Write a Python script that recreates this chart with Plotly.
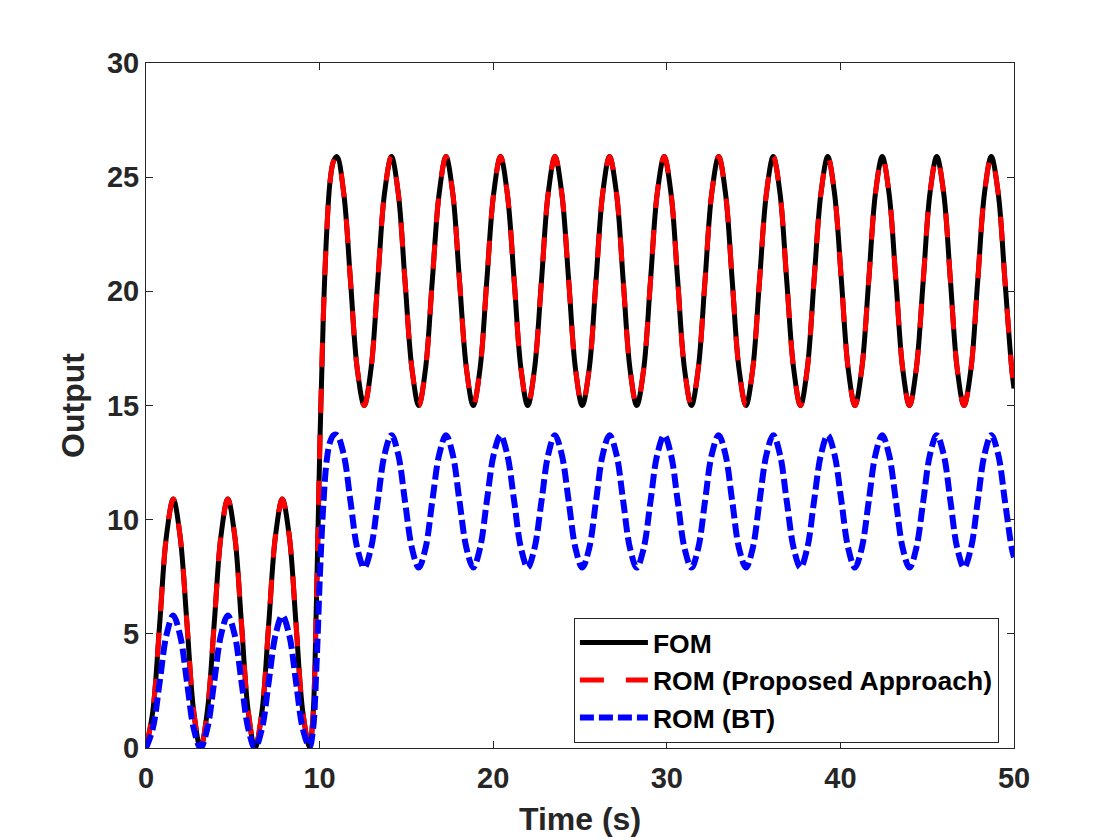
import plotly.graph_objects as go

# time samples (s)
time_s = [
    0.00, 0.39, 0.79, 1.18, 1.57, 1.96, 2.36, 2.75,
    3.14, 3.53, 3.93, 4.32, 4.71, 5.11, 5.50, 5.89,
    6.28, 6.68, 7.07, 7.46, 7.85, 8.25, 8.64, 9.03,
    9.42, 9.62, 9.82, 10.02, 10.21, 10.41, 10.60, 10.80,
    11.00, 11.39, 11.78, 12.17, 12.57, 12.96, 13.35, 13.74,
    14.14, 14.53, 14.92, 15.32, 15.71, 16.10, 16.49, 16.89,
    17.28, 17.67, 18.06, 18.46, 18.85, 19.24, 19.63, 20.03,
    20.42, 20.81, 21.21, 21.60, 21.99, 22.38, 22.78, 23.17,
    23.56, 23.95, 24.35, 24.74, 25.13, 25.53, 25.92, 26.31,
    26.70, 27.10, 27.49, 27.88, 28.27, 28.67, 29.06, 29.45,
    29.85, 30.24, 30.63, 31.02, 31.42, 31.81, 32.20, 32.59,
    32.99, 33.38, 33.77, 34.16, 34.56, 34.95, 35.34, 35.74,
    36.13, 36.52, 36.91, 37.31, 37.70, 38.09, 38.48, 38.88,
    39.27, 39.66, 40.06, 40.45, 40.84, 41.23, 41.63, 42.02,
    42.41, 42.80, 43.20, 43.59, 43.98, 44.37, 44.77, 45.16,
    45.55, 45.95, 46.34, 46.73, 47.12, 47.52, 47.91, 48.30,
    48.69, 49.09, 49.48, 49.87, 50.00,
]

fom = [
    0.0, 1.6, 5.45, 9.3, 10.9, 9.3, 5.45, 1.6,
    0.0, 1.6, 5.45, 9.3, 10.9, 9.3, 5.45, 1.6,
    0.0, 1.6, 5.45, 9.3, 10.9, 9.3, 5.45, 1.6,
    0.05, 1.4, 6.5, 13.5, 18.8, 22.6, 24.8, 25.7,
    25.9, 24.3, 20.45, 16.6, 15.0, 16.6, 20.45, 24.3,
    25.9, 24.3, 20.45, 16.6, 15.0, 16.6, 20.45, 24.3,
    25.9, 24.3, 20.45, 16.6, 15.0, 16.6, 20.45, 24.3,
    25.9, 24.3, 20.45, 16.6, 15.0, 16.6, 20.45, 24.3,
    25.9, 24.3, 20.45, 16.6, 15.0, 16.6, 20.45, 24.3,
    25.9, 24.3, 20.45, 16.6, 15.0, 16.6, 20.45, 24.3,
    25.9, 24.3, 20.45, 16.6, 15.0, 16.6, 20.45, 24.3,
    25.9, 24.3, 20.45, 16.6, 15.0, 16.6, 20.45, 24.3,
    25.9, 24.3, 20.45, 16.6, 15.0, 16.6, 20.45, 24.3,
    25.9, 24.3, 20.45, 16.6, 15.0, 16.6, 20.45, 24.3,
    25.9, 24.3, 20.45, 16.6, 15.0, 16.6, 20.45, 24.3,
    25.9, 24.3, 20.45, 16.6, 15.0, 16.6, 20.45, 24.3,
    25.9, 24.3, 20.45, 16.6, 15.75,
]

# proposed ROM sits right on top of the FOM
rom_proposed = [
    0.0, 1.6, 5.45, 9.3, 10.9, 9.3, 5.45, 1.6,
    0.0, 1.6, 5.45, 9.3, 10.9, 9.3, 5.45, 1.6,
    0.0, 1.6, 5.45, 9.3, 10.9, 9.3, 5.45, 1.6,
    0.05, 1.4, 6.5, 13.5, 18.8, 22.6, 24.8, 25.7,
    25.9, 24.3, 20.45, 16.6, 15.0, 16.6, 20.45, 24.3,
    25.9, 24.3, 20.45, 16.6, 15.0, 16.6, 20.45, 24.3,
    25.9, 24.3, 20.45, 16.6, 15.0, 16.6, 20.45, 24.3,
    25.9, 24.3, 20.45, 16.6, 15.0, 16.6, 20.45, 24.3,
    25.9, 24.3, 20.45, 16.6, 15.0, 16.6, 20.45, 24.3,
    25.9, 24.3, 20.45, 16.6, 15.0, 16.6, 20.45, 24.3,
    25.9, 24.3, 20.45, 16.6, 15.0, 16.6, 20.45, 24.3,
    25.9, 24.3, 20.45, 16.6, 15.0, 16.6, 20.45, 24.3,
    25.9, 24.3, 20.45, 16.6, 15.0, 16.6, 20.45, 24.3,
    25.9, 24.3, 20.45, 16.6, 15.0, 16.6, 20.45, 24.3,
    25.9, 24.3, 20.45, 16.6, 15.0, 16.6, 20.45, 24.3,
    25.9, 24.3, 20.45, 16.6, 15.0, 16.6, 20.45, 24.3,
    25.9, 24.3, 20.45, 16.6, 15.75,
]

rom_bt = [
    0.0, 0.85, 2.9, 4.95, 5.8, 4.95, 2.9, 0.85,
    0.0, 0.85, 2.9, 4.95, 5.8, 4.95, 2.9, 0.85,
    0.0, 0.85, 2.9, 4.95, 5.8, 4.95, 2.9, 0.85,
    0.05, 0.8, 3.6, 7.6, 10.6, 12.6, 13.4, 13.7,
    13.7, 12.85, 10.8, 8.75, 7.9, 8.75, 10.8, 12.85,
    13.7, 12.85, 10.8, 8.75, 7.9, 8.75, 10.8, 12.85,
    13.7, 12.85, 10.8, 8.75, 7.9, 8.75, 10.8, 12.85,
    13.7, 12.85, 10.8, 8.75, 7.9, 8.75, 10.8, 12.85,
    13.7, 12.85, 10.8, 8.75, 7.9, 8.75, 10.8, 12.85,
    13.7, 12.85, 10.8, 8.75, 7.9, 8.75, 10.8, 12.85,
    13.7, 12.85, 10.8, 8.75, 7.9, 8.75, 10.8, 12.85,
    13.7, 12.85, 10.8, 8.75, 7.9, 8.75, 10.8, 12.85,
    13.7, 12.85, 10.8, 8.75, 7.9, 8.75, 10.8, 12.85,
    13.7, 12.85, 10.8, 8.75, 7.9, 8.75, 10.8, 12.85,
    13.7, 12.85, 10.8, 8.75, 7.9, 8.75, 10.8, 12.85,
    13.7, 12.85, 10.8, 8.75, 7.9, 8.75, 10.8, 12.85,
    13.7, 12.85, 10.8, 8.75, 8.35,
]

x_ticks = [0, 10, 20, 30, 40, 50]
y_ticks = [0, 5, 10, 15, 20, 25, 30]

FONT = "Liberation Sans, Arial, Helvetica, sans-serif"
AXIS_COLOR = "#262626"

fig = go.Figure()
fig.add_trace(go.Scatter(
    x=time_s, y=fom, mode="lines", name="FOM",
    line=dict(color="black", width=5, shape="spline"),
))
fig.add_trace(go.Scatter(
    x=time_s, y=rom_proposed, mode="lines", name="ROM (Proposed Approach)",
    line=dict(color="#ff0000", width=5, dash="24px,22px", shape="spline"),
))
fig.add_trace(go.Scatter(
    x=time_s, y=rom_bt, mode="lines", name="ROM (BT)",
    line=dict(color="#0000ff", width=6, dash="14px,5px", shape="spline"),
))

axis_style = dict(
    showline=True, linecolor=AXIS_COLOR, linewidth=1, mirror="ticks",
    ticks="inside", ticklen=7, tickcolor=AXIS_COLOR,
    showgrid=False, zeroline=False,
    tickfont=dict(family=FONT, size=29, color=AXIS_COLOR, weight="bold"),
)

# page has an 8px body margin, so margins are trimmed to land the axes
# at the same spot as the reference
fig.update_layout(
    width=1120, height=840,
    margin=dict(l=138, r=114, t=55, b=100),
    plot_bgcolor="white", paper_bgcolor="white",
    xaxis=dict(
        range=[0, 50], tickvals=x_ticks, ticklabelstandoff=4,
        title=dict(text="Time (s)", standoff=14,
                   font=dict(family=FONT, size=32, color=AXIS_COLOR, weight="bold")),
        **axis_style,
    ),
    yaxis=dict(
        range=[0, 30], tickvals=y_ticks,
        title=dict(text="Output", standoff=12,
                   font=dict(family=FONT, size=32, color=AXIS_COLOR, weight="bold")),
        **axis_style,
    ),
    legend=dict(
        x=0.493, y=0.19, xanchor="left", yanchor="top",
        bgcolor="white", bordercolor=AXIS_COLOR, borderwidth=1,
        font=dict(family=FONT, size=26.5, color="black", weight="bold"),
        tracegroupgap=0, itemwidth=68,
    ),
    showlegend=True,
)

fig.write_html("out.html")
